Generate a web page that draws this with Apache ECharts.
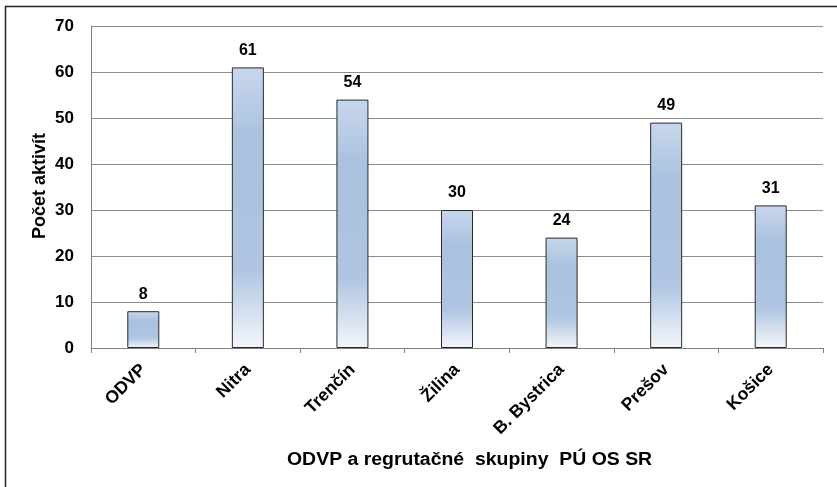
<!DOCTYPE html>
<html>
<head>
<meta charset="utf-8">
<script src="https://cdn.jsdelivr.net/npm/echarts@6/dist/echarts.min.js"></script>
<style>
  html, body { margin: 0; padding: 0; background: #fff; }
  #chart { width: 837px; height: 487px; }
</style>
</head>
<body>
<div id="chart"></div>
<script>
// Počet aktivít podľa ODVP a regrutačných skupín
const categories = ['ODVP', 'Nitra', 'Trenčín', 'Žilina', 'B. Bystrica', 'Prešov', 'Košice'];
const activityCounts = [8, 61, 54, 30, 24, 49, 31];
const yTicks = [0, 10, 20, 30, 40, 50, 60, 70];

const FONT = '"Liberation Sans", Arial, sans-serif';

const chart = echarts.init(document.getElementById('chart'), null, { renderer: 'canvas' });

const barFill = new echarts.graphic.LinearGradient(0, 0, 0, 1, [
  { offset: 0, color: '#c8d7eb' },
  { offset: 0.25, color: '#aac2df' },
  { offset: 0.72, color: '#afc5e1' },
  { offset: 1, color: '#f3f6fb' }
]);

chart.setOption({
  animation: false,
  backgroundColor: '#ffffff',
  grid: { left: 91, right: 14, top: 26, bottom: 139, containLabel: false },
  graphic: [
    {
      type: 'rect',
      shape: { x: 5.5, y: 6.5, width: 900, height: 600 },
      style: { fill: 'none', stroke: '#222', lineWidth: 1.5 },
      z: -10
    },
    {
      // x-axis title
      type: 'text',
      x: 287, y: 451,
      scaleX: 1.08,
      style: {
        text: 'ODVP a regrutačné  skupiny  PÚ OS SR',
        font: 'bold 18px ' + FONT,
        fill: '#000'
      }
    },
    {
      // y-axis title, rotated
      type: 'text',
      x: 40, y: 186,
      rotation: Math.PI / 2,
      style: {
        text: 'Počet aktivít',
        font: 'bold 18px ' + FONT,
        fill: '#000',
        align: 'center',
        verticalAlign: 'middle'
      }
    }
  ],
  xAxis: {
    type: 'category',
    data: categories,
    axisLine: { show: true, lineStyle: { color: '#808080', width: 1 } },
    axisTick: { show: true, alignWithLabel: false, length: 5, lineStyle: { color: '#808080' } },
    axisLabel: {
      rotate: 45,
      margin: 19,
      interval: 0,
      color: '#000',
      fontFamily: FONT,
      fontWeight: 'bold',
      fontSize: 17.5
    }
  },
  yAxis: {
    type: 'value',
    min: yTicks[0],
    max: yTicks[yTicks.length - 1],
    interval: 10,
    axisLine: { show: true, lineStyle: { color: '#808080', width: 1 } },
    axisTick: { show: false },
    splitLine: { show: true, lineStyle: { color: '#8c8c8c', width: 1 } },
    axisLabel: {
      margin: 17,
      color: '#000',
      fontFamily: FONT,
      fontWeight: 'bold',
      fontSize: 17
    }
  },
  series: [{
    type: 'bar',
    data: activityCounts,
    barWidth: 32,
    itemStyle: {
      color: barFill,
      borderColor: '#2a2a2a',
      borderWidth: 1
    },
    label: {
      show: true,
      position: 'top',
      distance: 9,
      color: '#000',
      fontFamily: FONT,
      fontWeight: 'bold',
      fontSize: 16
    }
  }]
});
</script>
</body>
</html>
